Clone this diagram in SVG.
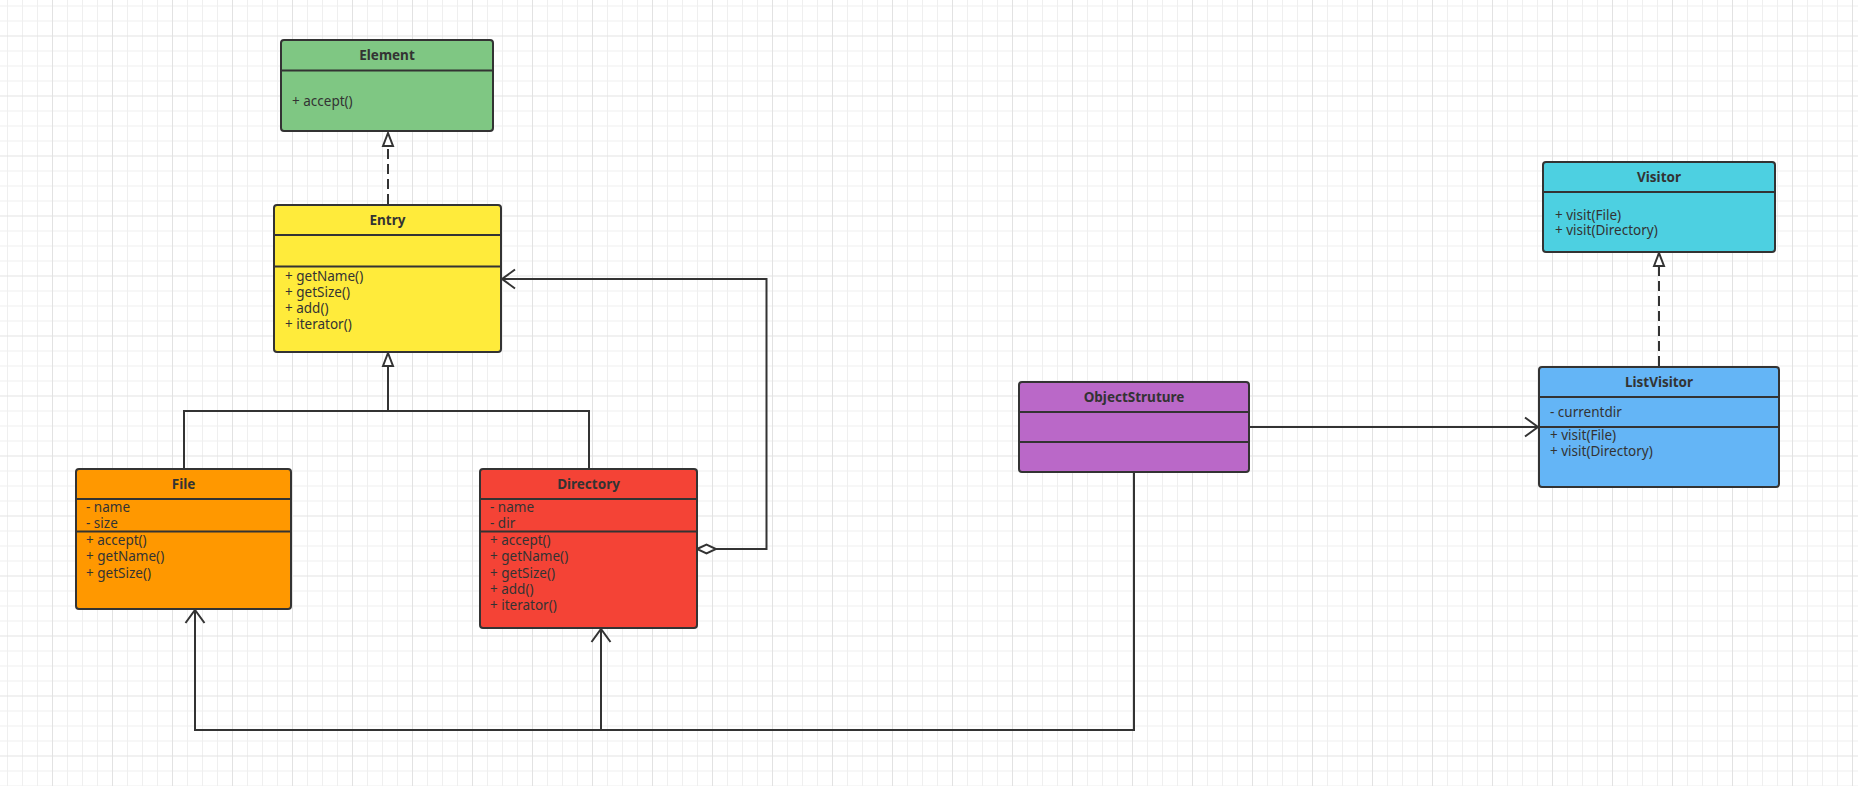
<svg xmlns="http://www.w3.org/2000/svg" width="1858" height="786" viewBox="0 0 1858 786">
<style>
.box{stroke:#333;stroke-width:2}
.div{stroke:#333;stroke-width:2}
.t{font-family:"Noto Sans","Liberation Sans",sans-serif;font-size:13.5px;fill:#333}
.h{font-family:"Noto Sans","Liberation Sans",sans-serif;font-size:13.5px;font-weight:bold;fill:#333;text-anchor:middle}
.c{fill:none;stroke:#333;stroke-width:2}
.d{stroke-dasharray:10 5}
</style>
<defs>
<pattern id="grid" x="52" y="35.5" width="60" height="60" patternUnits="userSpaceOnUse">
<path d="M15.5 0V60M30.5 0V60M45.5 0V60M0 15.5H60M0 30.5H60M0 45.5H60" stroke="#efefef" stroke-width="1" fill="none"/>
<path d="M0.5 0V60M0 0.5H60" stroke="#e2e2e2" stroke-width="1" fill="none"/>
</pattern>
<marker id="tri" markerWidth="16" markerHeight="14" refX="14" refY="7" orient="auto" markerUnits="userSpaceOnUse" overflow="visible">
<path d="M1,2 L14,7 L1,12 Z" fill="#fff" stroke="#333" stroke-width="2"/>
</marker>
<marker id="open" markerWidth="16" markerHeight="22" refX="14" refY="11" orient="auto" markerUnits="userSpaceOnUse" overflow="visible">
<path d="M1,1.5 L14,11 L1,20.5" fill="none" stroke="#333" stroke-width="2"/>
</marker>
<marker id="dia" markerWidth="22" markerHeight="12" refX="1" refY="6" orient="auto" markerUnits="userSpaceOnUse" overflow="visible">
<path d="M1,6 L10.5,1.5 L20,6 L10.5,10.5 Z" fill="#fff" stroke="#333" stroke-width="2"/>
</marker>
</defs>
<rect width="1858" height="786" fill="#fff"/>
<rect width="1858" height="786" fill="url(#grid)"/>

<g id="connectors">
<path class="c d" d="M388 204 L388 133" marker-end="url(#tri)"/>
<path class="c" d="M184 469 L184 411 L589 411 L589 469"/>
<path class="c" d="M388 411 L388 353" marker-end="url(#tri)"/>
<path class="c" d="M697 549 L766.5 549 L766.5 279 L502 279" marker-start="url(#dia)" marker-end="url(#open)"/>
<path class="c" d="M1249 427 L1538 427" marker-end="url(#open)"/>
<path class="c" d="M1134 472 L1134 730 L195 730 L195 610" marker-end="url(#open)"/>
<path class="c" d="M601 730 L601 629" marker-end="url(#open)"/>
<path class="c d" d="M1659 366 L1659 253" marker-end="url(#tri)"/>
</g>

<g id="Element">
<rect class="box" x="281" y="40" width="212" height="91" rx="3" fill="#7fc783"/>
<line class="div" x1="281" y1="70.5" x2="493" y2="70.5"/>
<text class="h" x="387" y="59.5">Element</text>
<text class="t" x="292" y="106">+ accept()</text>
</g>

<g id="Entry">
<rect class="box" x="274" y="205" width="227" height="147" rx="3" fill="#ffeb3b"/>
<line class="div" x1="274" y1="235" x2="501" y2="235"/>
<line class="div" x1="274" y1="266.5" x2="501" y2="266.5"/>
<text class="h" x="387.5" y="224.5">Entry</text>
<text class="t" x="285" y="280.5">+ getName()</text>
<text class="t" x="285" y="297">+ getSize()</text>
<text class="t" x="285" y="313">+ add()</text>
<text class="t" x="285" y="329">+ iterator()</text>
</g>

<g id="File">
<rect class="box" x="76" y="469" width="215" height="140" rx="3" fill="#ff9800"/>
<line class="div" x1="76" y1="499" x2="291" y2="499"/>
<line class="div" x1="76" y1="531.5" x2="291" y2="531.5"/>
<text class="h" x="183.5" y="488.5">File</text>
<text class="t" x="86" y="512">- name</text>
<text class="t" x="86" y="528">- size</text>
<text class="t" x="86" y="545">+ accept()</text>
<text class="t" x="86" y="561">+ getName()</text>
<text class="t" x="86" y="577.5">+ getSize()</text>
</g>

<g id="Directory">
<rect class="box" x="480" y="469" width="217" height="159" rx="3" fill="#f44336"/>
<line class="div" x1="480" y1="499" x2="697" y2="499"/>
<line class="div" x1="480" y1="531.5" x2="697" y2="531.5"/>
<text class="h" x="588.5" y="488.5">Directory</text>
<text class="t" x="490" y="512">- name</text>
<text class="t" x="490" y="528">- dir</text>
<text class="t" x="490" y="545">+ accept()</text>
<text class="t" x="490" y="561">+ getName()</text>
<text class="t" x="490" y="577.5">+ getSize()</text>
<text class="t" x="490" y="593.5">+ add()</text>
<text class="t" x="490" y="609.5">+ iterator()</text>
</g>

<g id="ObjectStruture">
<rect class="box" x="1019" y="382" width="230" height="90" rx="3" fill="#ba68c8"/>
<line class="div" x1="1019" y1="412" x2="1249" y2="412"/>
<line class="div" x1="1019" y1="442" x2="1249" y2="442"/>
<text class="h" x="1134" y="401.5">ObjectStruture</text>
</g>

<g id="Visitor">
<rect class="box" x="1543" y="162" width="232" height="90" rx="3" fill="#4dd0e1"/>
<line class="div" x1="1543" y1="192" x2="1775" y2="192"/>
<text class="h" x="1659" y="181.5">Visitor</text>
<text class="t" x="1555" y="219.5">+ visit(File)</text>
<text class="t" x="1555" y="235">+ visit(Directory)</text>
</g>

<g id="ListVisitor">
<rect class="box" x="1539" y="367" width="240" height="120" rx="3" fill="#64b5f6"/>
<line class="div" x1="1539" y1="397" x2="1779" y2="397"/>
<line class="div" x1="1539" y1="427" x2="1779" y2="427"/>
<text class="h" x="1659" y="386.5">ListVisitor</text>
<text class="t" x="1550" y="416.5">- currentdir</text>
<text class="t" x="1550" y="440">+ visit(File)</text>
<text class="t" x="1550" y="455.5">+ visit(Directory)</text>
</g>
</svg>
